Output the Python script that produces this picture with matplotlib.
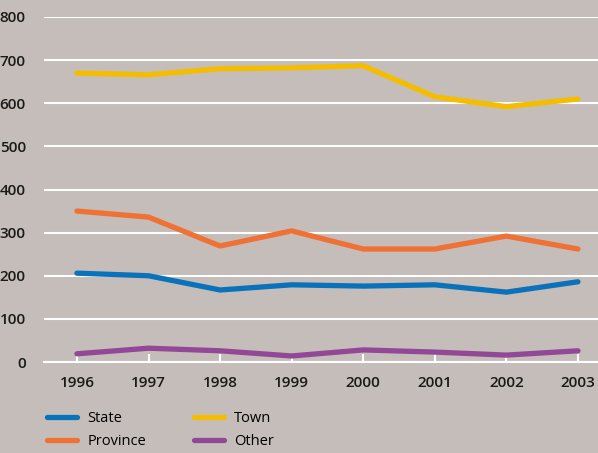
import matplotlib
matplotlib.use("Agg")
import matplotlib.pyplot as plt

years = [1996, 1997, 1998, 1999, 2000, 2001, 2002, 2003]
state = [206, 200, 167, 179, 176, 179, 162, 186]
province = [350, 336, 269, 304, 262, 262, 292, 262]
town = [670, 666, 680, 682, 687, 615, 592, 610]
other = [19, 32, 26, 14, 28, 23, 16, 26]

bg = "#c5bdb9"
plt.rcParams["font.family"] = ["Open Sans", "DejaVu Sans"]

fig = plt.figure(figsize=(5.98, 4.53), dpi=100, facecolor=bg)
ax = fig.add_axes([44 / 598, 1 - 362 / 453, 1 - 44 / 598, (362 - 17) / 453])
ax.set_facecolor(bg)

lw = 3.8
ax.plot(years, state, color="#0a72bb", lw=lw, label="State", solid_capstyle="round")
ax.plot(years, province, color="#ef7133", lw=lw, label="Province", solid_capstyle="round")
ax.plot(years, town, color="#f4bd00", lw=lw, label="Town", solid_capstyle="round")
ax.plot(years, other, color="#924896", lw=lw, label="Other", solid_capstyle="round")

ax.set_ylim(0, 800)
ax.set_xlim(1995.54, 2003.28)
ax.set_yticks(range(0, 801, 100))
ax.set_xticks(years)
ax.yaxis.grid(True, color="white", lw=1.5)
ax.set_axisbelow(True)
for s in ["top", "right", "left"]:
    ax.spines[s].set_visible(False)
ax.spines["bottom"].set_color("white")
ax.spines["bottom"].set_linewidth(1.5)
ax.tick_params(axis="y", length=0, pad=13, labelsize=11, labelcolor="#1a1a1a")
ax.tick_params(axis="x", direction="in", length=6, width=1.5, color="white",
               pad=10, labelsize=11, labelcolor="#1a1a1a")
for t in ax.get_xticklabels() + ax.get_yticklabels():
    t.set_fontweight("semibold")

handles, labels = ax.get_legend_handles_labels()
fig.legend(handles, labels, ncol=2, loc="upper left",
           bbox_to_anchor=(34 / 598, 1 - 398 / 453), frameon=False,
           fontsize=10.5, handlelength=2.05, columnspacing=3.3,
           handletextpad=0.7, labelspacing=0.55)

fig.savefig("out.png", dpi=100, facecolor=bg)
